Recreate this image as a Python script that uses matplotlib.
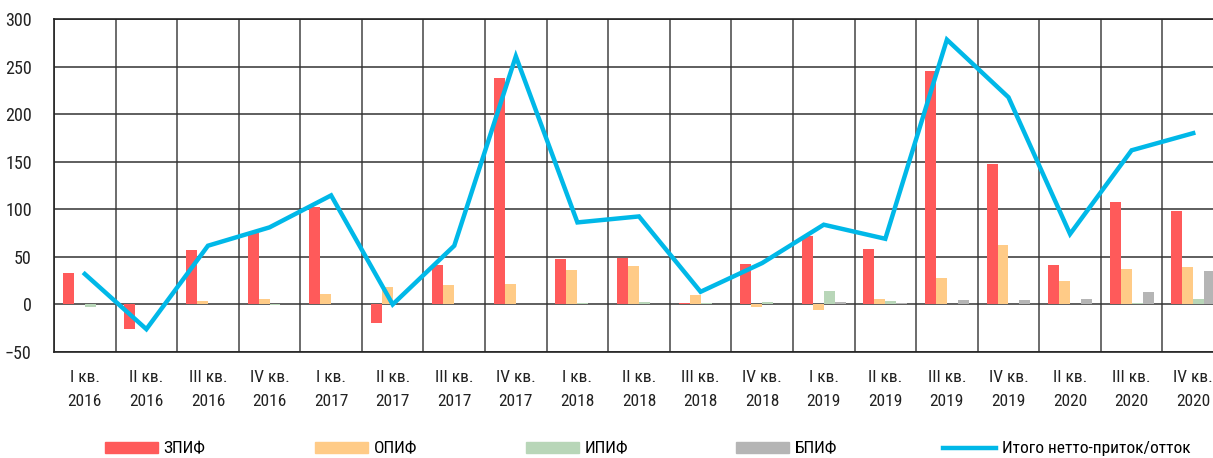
import matplotlib
matplotlib.use("Agg")
import matplotlib.pyplot as plt
import numpy as np
from matplotlib.patches import Patch
from matplotlib.lines import Line2D
from matplotlib import font_manager

quarters = ["I кв.", "II кв.", "III кв.", "IV кв.", "I кв.", "II кв.", "III кв.", "IV кв.",
            "I кв.", "II кв.", "III кв.", "IV кв.", "I кв.", "II кв.", "III кв.", "IV кв.",
            "II кв.", "III кв.", "IV кв."]
years = ["2016", "2016", "2016", "2016", "2017", "2017", "2017", "2017",
         "2018", "2018", "2018", "2018", "2019", "2019", "2019", "2019",
         "2020", "2020", "2020"]

zpif = [33, -26, 57.5, 75, 102.5, -19.5, 41, 237.5, 47.5, 48.5, 1.8, 42.8, 71.5, 58, 245, 148, 41.7, 108, 98]
opif = [0.7, 0.3, 3.5, 6, 11, 18, 20, 21.7, 36, 40.3, 9.8, -2.8, -6.2, 5.3, 27.7, 62, 25, 37.5, 39.6]
ipif = [-3, 0, 0, -0.5, 0, 0.5, 0, 0, 1.4, 2.8, 1.4, 2.1, 14, 3.2, 0.3, 0.7, 0.7, 1.8, 5.6]
bpif = [0, 0, 0, 0, 0, 0, 0, 0, 0, 0, 0, 0.3, 2.5, 1.8, 4.2, 4.6, 6, 13, 34.7]
total = [32, -26, 61.7, 81, 114.6, 0, 61.7, 260.8, 86.2, 92.5, 13.3, 43.5, 83.8, 69, 278.3, 217.7, 74, 162, 180]

series_names = ["ЗПИФ", "ОПИФ", "ИПИФ", "БПИФ"]
total_name = "Итого нетто-приток/отток"
colors = ["#FF5A5A", "#FFCB87", "#B8D6B8", "#B5B5B5"]
line_color = "#00B8E8"

avail = {f.name for f in font_manager.fontManager.ttflist}
fam = [f for f in ["Liberation Sans Narrow", "Roboto Condensed", "Roboto", "DejaVu Sans"] if f in avail]
plt.rcParams['font.family'] = fam

W, H = 1213, 458
fig = plt.figure(figsize=(W / 100, H / 100), dpi=100)
ax = fig.add_axes([54 / W, (H - 352) / H, 1170 / W, 333 / H])

n = len(quarters)
x = np.arange(n)
bw = 0.178
data = [zpif, opif, ipif, bpif]
for k, (vals, c) in enumerate(zip(data, colors)):
    ax.bar(x + (k - 1.5) * bw, vals, width=bw, color=c, zorder=2, linewidth=0)
ax.plot(x, total, color=line_color, lw=3.2, zorder=3, solid_joinstyle='miter')

ax.set_xlim(-0.5, n - 0.5)
ax.set_ylim(-50, 300)
ax.set_yticks(np.arange(-50, 301, 50))
ax.set_xticks(x)
ax.set_xticklabels([f"{q}\n{y}" for q, y in zip(quarters, years)], fontsize=12.5, color="#222222",
                   linespacing=1.75)
ax.set_xticks(np.arange(-0.5, n, 1), minor=True)
ax.tick_params(axis='x', which='both', length=0, pad=13)
ax.tick_params(axis='y', length=0, pad=16, labelsize=13, labelcolor="#222222")
ax.grid(axis='y', which='major', color="#333333", lw=1.1, zorder=0)
ax.grid(axis='x', which='minor', color="#444444", lw=1.1, zorder=0)
for s in ax.spines.values():
    s.set_color("#222222")
    s.set_linewidth(1.2)
ax.spines['right'].set_visible(False)
ax.set_axisbelow(True)

handles = [Patch(color=c) for c in colors] + [Line2D([], [], color=line_color, lw=3.2)]
labels = series_names + [total_name]
xs = [105, 315, 526, 736, 943]
for hnd, lab, xp in zip(handles, labels, xs):
    leg = fig.legend([hnd], [lab], loc='center left', bbox_to_anchor=(xp / W - 0.006, 9 / H),
                     frameon=False, fontsize=12.5, handlelength=3.1, handleheight=0.65,
                     handletextpad=0.3, borderaxespad=0)

fig.savefig("out.png", dpi=100)
